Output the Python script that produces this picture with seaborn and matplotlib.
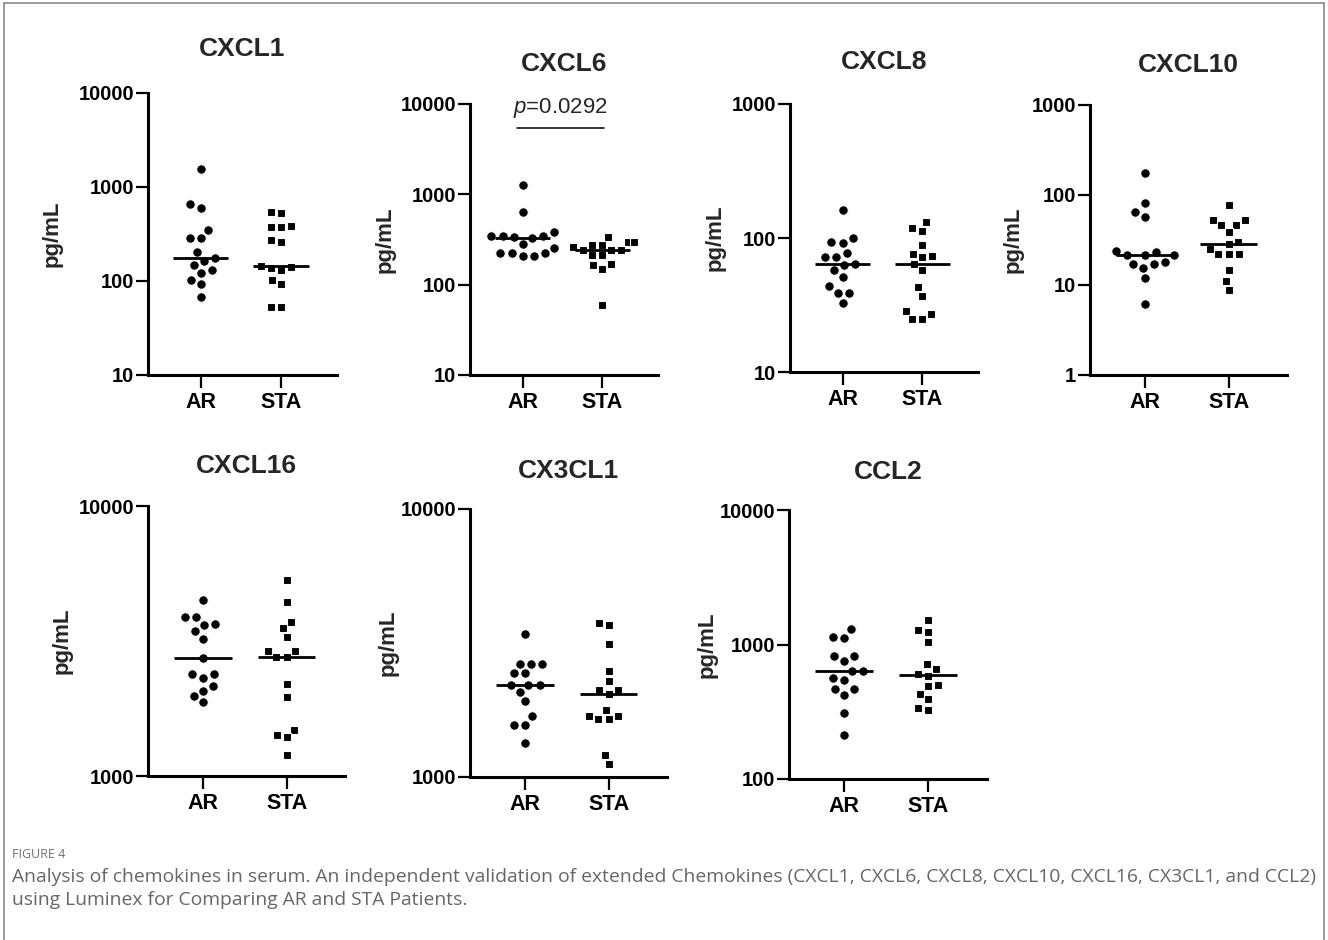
import numpy as np
import pandas as pd
import matplotlib
matplotlib.use("Agg")
import matplotlib.pyplot as plt
import seaborn as sns
from matplotlib.lines import Line2D
from matplotlib.ticker import NullLocator

# ---------------- data (pg/mL) ----------------
groups = ["AR", "STA"]

cxcl1_ar = [1550, 657, 605, 350, 286, 286, 201, 175, 164, 149, 131, 121, 103, 93, 68]
cxcl1_sta = [536, 527, 386, 380, 371, 274, 263, 146, 140, 136, 132, 103, 93, 53, 53]

cxcl6_ar = [1256, 630, 378, 347, 347, 347, 335, 330, 283, 253, 223, 223, 223, 208, 208]
cxcl6_sta = [341, 293, 293, 276, 276, 260, 243, 243, 243, 214, 214, 170, 166, 148, 59]

cxcl8_ar = [161, 100, 94, 92, 77, 72, 72, 64, 63, 57.5, 51, 44, 39, 39, 33]
cxcl8_sta = [132, 118, 113, 88, 76, 74, 72, 64, 57.5, 43, 37, 28.6, 27.3, 24.9, 24.9]

cxcl10_ar = [174, 82, 64, 57, 24, 23.5, 21.5, 21.5, 21.5, 18.2, 17.1, 17.1, 15.6, 11.9, 6.15]
cxcl10_sta = [77, 53, 53, 46, 46, 39, 30, 28.3, 25, 22, 22, 22, 14.7, 11.2, 8.8]

cxcl16_ar = [4475, 3880, 3880, 3664, 3634, 3433, 3225, 2737, 2393, 2377, 2314, 2148, 2063, 1974, 1880]
cxcl16_sta = [5305, 4410, 3718, 3533, 3272, 2904, 2904, 2760, 2760, 2198, 1962, 1476, 1415, 1394, 1199]

cx3cl1_ar = [3420, 2644, 2644, 2644, 2441, 2441, 2196, 2196, 2196, 2074, 1914, 1683, 1567, 1567, 1339]
cx3cl1_sta = [3750, 3690, 3140, 2490, 2285, 2115, 2115, 2045, 1782, 1693, 1693, 1645, 1645, 1211, 1121]

ccl2_ar = [1294, 1140, 1120, 819, 819, 755, 637, 630, 563, 549, 465, 465, 420, 310, 211]
ccl2_sta = [1517, 1280, 1243, 1047, 722, 655, 601, 585, 500, 490, 432, 396, 340, 325]

titles = ["CXCL1", "CXCL6", "CXCL8", "CXCL10", "CXCL16", "CX3CL1", "CCL2"]
ar_data = [cxcl1_ar, cxcl6_ar, cxcl8_ar, cxcl10_ar, cxcl16_ar, cx3cl1_ar, ccl2_ar]
sta_data = [cxcl1_sta, cxcl6_sta, cxcl8_sta, cxcl10_sta, cxcl16_sta, cx3cl1_sta, ccl2_sta]
y_decades = [(1, 4), (1, 4), (1, 3), (0, 3), (3, 4), (3, 4), (2, 4)]  # log10 limits
p_text = "0.0292"

caption_head = "FIGURE 4"
caption_1 = ("Analysis of chemokines in serum. An independent validation of extended Chemokines "
             "(CXCL1, CXCL6, CXCL8, CXCL10, CXCL16, CX3CL1, and CCL2)")
caption_2 = "using Luminex for Comparing AR and STA Patients."

# ---------------- style ----------------
sns.set_theme(style="ticks")
plt.rcParams["font.family"] = ["Liberation Sans", "DejaVu Sans"]
plt.rcParams["mathtext.fontset"] = "custom"
plt.rcParams["mathtext.it"] = "Liberation Sans:italic"
plt.rcParams["mathtext.rm"] = "Liberation Sans"

W, H = 1328, 940
fig = plt.figure(figsize=(W / 100, H / 100), dpi=100)
fig.patch.set_facecolor("white")

# axes boxes in pixels: x0, xr, ytop, ybottom
boxes = [
    (148, 337, 93, 375),
    (470, 658, 104, 375),
    (790, 978, 104, 372),
    (1090, 1287, 105, 375),
    (148, 345, 506, 776),
    (470, 667, 509, 777),
    (789, 987, 510, 779),
]
title_pads = [27, 24, 25, 24, 24, 22, 22]
label_x_px = [52, 385, 715, 1013, 62, 388, 707]

for i in range(7):
    x0, xr, yt, yb = boxes[i]
    ax = fig.add_axes([x0 / W, 1 - yb / H, (xr - x0) / W, (yb - yt) / H])
    ax.set_yscale("log")
    lo, hi = y_decades[i]
    ax.set_ylim(10 ** lo, 10 ** hi)

    df_ar = pd.DataFrame({"group": "AR", "value": ar_data[i]})
    df_sta = pd.DataFrame({"group": "STA", "value": sta_data[i]})
    # thin white edges widen the swarm spacing a little, like GraphPad's layout
    sns.swarmplot(data=df_ar, x="group", y="value", order=groups, ax=ax,
                  marker="o", size=6.9, color="black", edgecolor="white", linewidth=0.8)
    sns.swarmplot(data=df_sta, x="group", y="value", order=groups, ax=ax,
                  marker="s", size=6.2, color="black", edgecolor="white", linewidth=0.8)

    for j, vals in enumerate([ar_data[i], sta_data[i]]):
        ax.hlines(np.median(vals), j - 0.345, j + 0.345, color="black", lw=2.0, zorder=3)

    ax.set_xlim(-0.66, 1.70)
    ax.set_ylim(10 ** lo, 10 ** hi)
    ticks = [10 ** k for k in range(lo, hi + 1)]
    ax.set_yticks(ticks)
    ax.set_yticklabels([str(t) for t in ticks])
    ax.yaxis.set_minor_locator(NullLocator())
    ax.set_xlabel("")
    ax.set_ylabel("")

    for s in ["top", "right"]:
        ax.spines[s].set_visible(False)
    for s in ["left", "bottom"]:
        ax.spines[s].set_linewidth(2.2)
        ax.spines[s].set_color("black")
    ax.tick_params(axis="y", length=9, width=1.6, pad=1, labelsize=14.5, colors="black")
    ax.tick_params(axis="x", length=9, width=1.6, pad=3, labelsize=15.5, colors="black")
    for lab in ax.get_yticklabels() + ax.get_xticklabels():
        lab.set_fontweight("bold")

    ax.set_title(titles[i], fontsize=19, fontweight="bold", pad=title_pads[i])
    fx = (label_x_px[i] - x0) / (xr - x0)
    ax.text(fx, 0.5, "pg/mL", transform=ax.transAxes, rotation=90, ha="center",
            va="center", fontsize=16, fontweight="bold")

    if i == 1:
        ax.plot([-0.07, 1.02], [0.9125, 0.9125], color="black", lw=1.1,
                transform=ax.get_xaxis_transform(), clip_on=False)
        ax.text(0.47, 0.967, r"$\mathit{p}$=" + p_text, transform=ax.get_xaxis_transform(),
                ha="center", va="baseline", fontsize=16, clip_on=False)

# figure frame
frame_c = "#8a8a8a"
fig.add_artist(Line2D([4 / W, 1324 / W], [1 - 3 / H, 1 - 3 / H], color=frame_c, lw=1.2))
fig.add_artist(Line2D([4 / W, 4 / W], [0, 1 - 3 / H], color=frame_c, lw=1.2))
fig.add_artist(Line2D([1324 / W, 1324 / W], [0, 1 - 3 / H], color=frame_c, lw=1.2))

# caption
fig.text(12 / W, 1 - 855 / H, caption_head, fontsize=9, color="#707070",
         family=["Open Sans", "DejaVu Sans"], va="center")
fig.text(12 / W, 1 - 877 / H, caption_1, fontsize=13.9, color="#666666",
         family=["Open Sans", "DejaVu Sans"], va="center")
fig.text(12 / W, 1 - 900 / H, caption_2, fontsize=13.9, color="#666666",
         family=["Open Sans", "DejaVu Sans"], va="center")

fig.savefig("out.png", dpi=100, facecolor="white")
